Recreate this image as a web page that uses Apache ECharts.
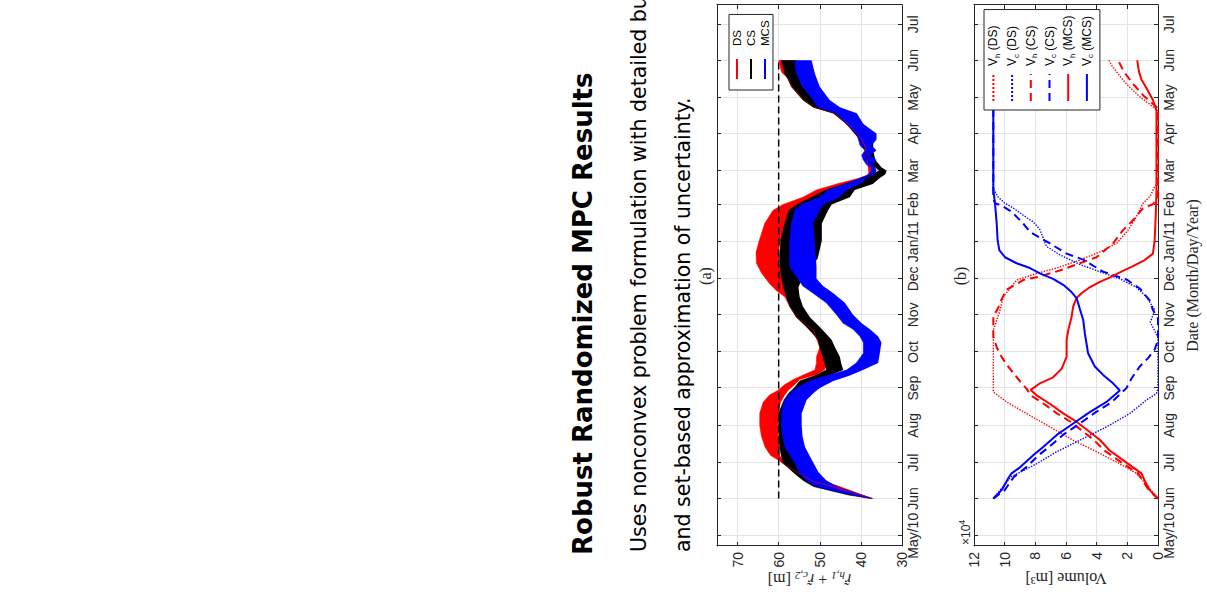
<!DOCTYPE html>
<html lang="en">
<head>
<meta charset="UTF-8">
<meta name="viewport" content="width=device-width, initial-scale=1.0">
<title>Robust Randomized MPC Results</title>
<script src="https://cdn.jsdelivr.net/npm/echarts@6/dist/echarts.min.js"></script>
<style>
    html, body { margin: 0; padding: 0; width: 1207px; height: 595px; overflow: hidden; background: #fff; }
    /* the slide is laid out upright, then turned a quarter turn to the left like the photo */
    #slide {
        position: absolute; left: 0; top: 0;
        width: 595px; height: 1207px;
        transform-origin: 0 0;
        transform: translate(0, 595px) rotate(-90deg);
    }
</style>
</head>
<body>
<div id="slide"></div>
<script>
var monthTicks = ['May/10', 'Jun', 'Jul', 'Aug', 'Sep', 'Oct', 'Nov', 'Dec', 'Jan/11', 'Feb', 'Mar', 'Apr', 'May', 'Jun', 'Jul'];

// (a) spread of r_h,1 + r_c,2 [m] over the runs; days counted from 1 Jun 2010
var dsDays  = [0, 15, 28, 32, 36, 43, 52, 61, 71, 80, 86, 90, 95, 99, 103, 107, 113, 118, 126, 140, 151, 160, 168, 173, 179, 188, 196, 205, 214, 229, 240, 245, 251, 257, 262, 267, 270, 290, 298, 304, 312, 321, 326, 332, 343, 350, 355, 365];
var dsLow   = [37, 49, 55, 59, 59.7, 59.9, 60, 60.2, 60, 59.5, 58.5, 57.7, 56, 54.9, 51, 48.8, 48.4, 49.2, 48.5, 49.5, 53, 55, 56, 58.5, 58.9, 59.3, 59.8, 60, 59.6, 58.1, 56.1, 53.2, 48.8, 45.9, 42.7, 38.6, 37, 37, 37.2, 37.5, 39.8, 44, 48.6, 51, 54.3, 55, 55.5, 56];
var dsHigh  = [37, 52, 58.5, 60, 62, 63.3, 64.2, 64.6, 64.6, 63.8, 62.3, 60.2, 58.5, 56.5, 54, 51.2, 50.8, 50.8, 50, 51.5, 55.5, 57.3, 58.5, 60.5, 62.2, 64.2, 65.4, 65.5, 64.8, 63.4, 61.4, 58.9, 54.1, 50.8, 45.9, 40.2, 38, 38.8, 39.5, 41, 43, 46.5, 51.4, 53.8, 56.7, 57.7, 59.3, 60];

var csDays  = [0, 3, 10, 15, 22, 30, 43, 61, 71, 82, 88, 93, 98, 102, 107, 113, 118, 126, 132, 137, 143, 151, 160, 168, 176, 185, 200, 215, 229, 240, 245, 251, 257, 262, 267, 270, 273, 276, 282, 290, 298, 304, 312, 321, 326, 332, 343, 349, 354, 360, 365];
var csLow   = [37, 40.5, 46, 48.5, 51, 53.5, 54.5, 55, 55, 53.5, 53, 52, 51.3, 48, 44.3, 44.8, 45.1, 46.3, 47.1, 48.4, 50, 52.4, 54.1, 54.9, 55.2, 54, 50.5, 49.5, 49.5, 48, 47.1, 42.7, 41.5, 37.1, 35.4, 34.1, 33.7, 35, 36.5, 37, 37, 37, 39.4, 43.5, 48.4, 50.8, 54.1, 54.9, 55.3, 55.7, 55.7];
var csHigh  = [37.5, 43, 51.5, 54, 56.5, 59, 59.8, 60, 60, 58.7, 57.5, 56, 54.9, 51.5, 48.4, 48.8, 49.2, 50, 50.4, 51.6, 53.2, 55.7, 57.3, 58.1, 58.8, 59.4, 59.8, 59.5, 58.5, 57.5, 55.5, 52, 48.5, 44, 39.5, 37.5, 35.5, 36.5, 38.5, 39, 40, 41.5, 43.5, 46.7, 51.6, 54.1, 56.9, 57.7, 58.5, 58.9, 59.3];

var mcsDays = [0, 3, 10, 15, 22, 30, 43, 52, 61, 71, 82, 88, 92, 98, 102, 107, 113, 121, 130, 135, 141, 146, 153, 163, 171, 177, 183, 193, 214, 229, 240, 245, 251, 257, 262, 267, 269, 273, 276, 278, 282, 286, 290, 294, 299, 304, 312, 321, 326, 332, 343, 354, 365];
var mcsLow  = [37, 39.5, 45.9, 48.4, 50.3, 51.6, 53.6, 54.2, 54.4, 54.4, 53.2, 51.5, 50, 46.7, 43, 39.5, 35.8, 35.4, 35, 35.8, 37.8, 39.8, 41.9, 43.9, 46.7, 49.2, 50.8, 50.8, 51.2, 51.6, 50, 49.2, 45.1, 43.5, 40.2, 38.6, 37, 36.2, 36.5, 37.2, 36.2, 37.8, 36.2, 37.4, 36.2, 36.2, 39.4, 41, 45.1, 47.6, 50, 51.2, 52];
var mcsHigh = [37.3, 42, 50.8, 53.2, 55, 56.1, 58.5, 59, 59.3, 59.3, 58.5, 57, 55.7, 52.4, 48.5, 43.5, 41.1, 39.4, 39.4, 40.2, 41.9, 44.3, 45.9, 48.4, 51.6, 54.1, 55.3, 57.3, 57.3, 56.9, 56.1, 54.5, 50, 48, 43.5, 40.2, 38.6, 37.4, 37.5, 38.6, 39.4, 39.8, 39, 40.2, 40.6, 41, 43.5, 45.9, 50.4, 51.6, 54.1, 55.7, 56.1];

var refDays  = [0, 365];
var refLevel = [60, 60];

// (b) volumes, in units of 1e4 m^3
var vhDsDays  = [0, 10, 21, 30.5, 39, 48.6, 59.7, 70.8, 80.5, 88.8, 140, 157, 168, 182, 187.5, 192, 198.6, 205.5, 212.5, 223.6, 234.7, 245.8, 252, 259.7, 263, 323, 334.7, 342.5, 348.6, 355.5, 361, 365];
var vhDs      = [0, 0.65, 1.41, 2.71, 4.01, 5.53, 7.05, 8.57, 9.87, 10.74, 10.74, 10.3, 10.09, 9.22, 7.92, 6.61, 5.1, 3.8, 2.71, 1.95, 1.41, 0.98, 0.5, 0.22, 0, 0, 1.19, 1.84, 2.28, 2.71, 3.03, 3.2];
var vcDsDays  = [0, 7, 18, 29, 39, 48.6, 59.7, 70.8, 82, 87.5, 92, 134, 147, 157, 168, 176, 183, 189, 195, 203, 210, 224, 230.5, 236, 242, 246, 251, 258, 365];
var vcDs      = [10.74, 10.3, 9.6, 7.92, 6.61, 5.1, 3.36, 1.84, 0.76, 0.1, 0, 0, 0.5, 0.21, 0.76, 1.41, 2.49, 3.8, 5.1, 6.4, 7.27, 7.7, 8.14, 8.79, 9.44, 9.98, 10.42, 10.74, 10.74];
var vhCsDays  = [0, 7, 15, 21, 26, 32, 40, 49, 55.5, 64, 71, 79, 86, 92, 96, 103, 110, 118, 126, 135, 152, 158, 166, 174, 182, 185, 190, 196, 201, 212.5, 223.6, 230.5, 241.7, 245.3, 250, 325, 335, 345, 355, 365];
var vhCs      = [0, 0.6, 1.0, 1.3, 1.9, 2.6, 3.5, 4.2, 4.85, 5.7, 6.6, 7.45, 8.3, 8.6, 8.9, 9.33, 9.77, 10.2, 10.52, 10.74, 10.74, 10.45, 10.2, 9.87, 8.79, 7.7, 6.4, 5.1, 4.01, 2.93, 2.28, 1.73, 0.98, 0.33, 0, 0, 0.9, 1.6, 2.2, 2.6];
var vcCsDays  = [0, 7, 18, 26, 36, 43, 53, 62.5, 72, 80.5, 92, 100, 110, 117, 124, 132, 150, 157, 165, 175, 182.5, 189, 199, 204, 212.5, 222, 229, 239, 244, 246, 250, 365];
var vcCs      = [10.74, 10.0, 9.4, 8.6, 7.8, 7.1, 6.2, 5.1, 4.05, 3.0, 2.06, 1.73, 1.19, 0.65, 0.22, 0, 0, 0.33, 0.54, 1.19, 2.06, 3.58, 4.88, 5.96, 7.05, 8.35, 8.79, 9.55, 10.2, 10.63, 10.74, 10.74];
var vhMcsDays = [0, 7, 15, 21, 26, 32, 40, 49, 55.5, 64, 71, 79, 86, 90.5, 96, 101, 108, 118, 132, 140, 151, 160, 167, 171, 176, 180.5, 184, 189, 193.6, 198.6, 204, 215, 235, 257, 323, 332, 342, 349, 356, 365];
var vhMcs     = [0, 0.54, 0.87, 1.08, 1.63, 2.28, 3.15, 3.8, 4.45, 5.31, 6.18, 7.05, 7.92, 8.3, 7.7, 6.84, 6.29, 5.96, 5.96, 5.86, 5.64, 5.53, 5.31, 4.99, 4.45, 3.8, 3.15, 2.39, 1.63, 0.87, 0.33, 0.22, 0.15, 0.1, 0.1, 0.33, 0.76, 1.08, 1.25, 1.35];
var vcMcsDays = [0, 7, 18, 21, 26, 36, 43, 53, 62.5, 72, 80.5, 90, 96, 103, 110, 121, 137.5, 149, 158, 167, 172, 178, 183, 187.5, 192, 196, 201, 207, 215, 229, 246, 257, 365];
var vcMcs     = [10.74, 10.2, 9.72, 9.55, 9.0, 8.14, 7.49, 6.6, 5.53, 4.45, 3.36, 2.49, 2.93, 3.58, 4.12, 4.56, 4.77, 4.88, 5.1, 5.31, 5.64, 6.18, 6.84, 7.7, 8.35, 9.22, 9.98, 10.35, 10.46, 10.52, 10.63, 10.74, 10.74];

var DAY = 86400000;
var START = Date.UTC(2010, 5, 1);
var X_MIN = Date.UTC(2010, 3, 22, 12);
var X_MAX = Date.UTC(2011, 6, 17, 2);

var RED = '#ff0000', BLUE = '#0000ff', BLACK = '#000000';
var AXIS = '#262626', GRID = '#e3e3e3';
var SANS = "'Liberation Sans', Arial, sans-serif";
var SERIF = "'Liberation Serif', 'Times New Roman', serif";

function pts(days, vals) {
    return days.map(function (d, i) { return [START + d * DAY, vals[i]]; });
}
function spread(days, lo, hi) {
    return days.map(function (d, i) { return [START + d * DAY, +(hi[i] - lo[i]).toFixed(2)]; });
}

function monthLabel(value) {
    var d = new Date(value);
    if (d.getUTCDate() !== 1 || d.getUTCHours() !== 0) return '';
    var k = (d.getUTCFullYear() - 2010) * 12 + d.getUTCMonth() - 4;
    return monthTicks[k] || '';
}

function dateAxis(grid, position, labels, name) {
    return {
        type: 'time', gridIndex: grid, position: position,
        min: X_MIN, max: X_MAX,
        splitNumber: 15, minInterval: 28 * DAY, maxInterval: 31 * DAY,
        axisLine: { show: true, onZero: false, lineStyle: { color: AXIS, width: 1 } },
        axisTick: { show: true, inside: true, length: 4, lineStyle: { color: AXIS } },
        axisLabel: { show: labels, formatter: monthLabel, margin: 4, color: AXIS, fontFamily: SANS, fontSize: 14, hideOverlap: false },
        splitLine: { show: labels, lineStyle: { color: GRID, width: 1 } },
        name: name || '', nameLocation: 'middle', nameGap: 26, nameMoveOverlap: false,
        nameTextStyle: { fontFamily: SERIF, fontSize: 16, color: AXIS }
    };
}

function valueAxis(grid, position, min, max, step, labels, name, rich) {
    return {
        type: 'value', gridIndex: grid, position: position,
        min: min, max: max, interval: step,
        axisLine: { show: true, onZero: false, lineStyle: { color: AXIS, width: 1 } },
        axisTick: { show: true, inside: true, length: 4, lineStyle: { color: AXIS } },
        axisLabel: {
            show: labels, margin: 6, color: AXIS, fontFamily: SANS, fontSize: 14,
            formatter: function (v) { return (v - min) % step === 0 ? String(v) : ''; }
        },
        splitLine: { show: labels, lineStyle: { color: GRID, width: 1 } },
        name: name || '', nameLocation: 'middle', nameGap: 24, nameMoveOverlap: false,
        nameTextStyle: { fontFamily: SERIF, fontSize: 16, color: AXIS, rich: rich || {} }
    };
}

// one band = an invisible lower line plus the stacked gap filled in colour
function band(name, color, days, lo, hi) {
    return [
        { name: name + ' low', type: 'line', xAxisIndex: 0, yAxisIndex: 0, stack: name, symbol: 'none', silent: true,
          lineStyle: { opacity: 0 }, data: pts(days, lo) },
        { name: name + ' spread', type: 'line', xAxisIndex: 0, yAxisIndex: 0, stack: name, symbol: 'none', silent: true,
          lineStyle: { color: color, width: 0.6 }, areaStyle: { color: color, opacity: 1 }, data: spread(days, lo, hi) }
    ];
}

function volume(name, color, dash, width, days, vals) {
    return { name: name, type: 'line', xAxisIndex: 2, yAxisIndex: 2, symbol: 'none', color: color,
             lineStyle: { color: color, type: dash, width: width }, data: pts(days, vals) };
}

function legendKey(name, color) {
    return { name: name, type: 'line', xAxisIndex: 0, yAxisIndex: 0, symbol: 'none', color: color,
             lineStyle: { color: color, width: 1 }, data: [] };
}

var chart = echarts.init(document.getElementById('slide'), null, { renderer: 'svg' });

var series = [
    { name: 'level', type: 'line', xAxisIndex: 0, yAxisIndex: 0, symbol: 'none', silent: true,
      lineStyle: { color: BLACK, type: [7, 4], width: 1.5 }, data: pts(refDays, refLevel) }
]
    .concat(band('DS', RED, dsDays, dsLow, dsHigh))
    .concat(band('CS', BLACK, csDays, csLow, csHigh))
    .concat(band('MCS', BLUE, mcsDays, mcsLow, mcsHigh))
    .concat([
        legendKey('DS', RED), legendKey('CS', BLACK), legendKey('MCS', BLUE),
        volume('Vh (DS)', RED, 'dotted', 1.4, vhDsDays, vhDs),
        volume('Vc (DS)', BLUE, 'dotted', 1.4, vcDsDays, vcDs),
        volume('Vh (CS)', RED, [8, 5], 2, vhCsDays, vhCs),
        volume('Vc (CS)', BLUE, [8, 5], 2, vcCsDays, vcCs),
        volume('Vh (MCS)', RED, 'solid', 2, vhMcsDays, vhMcs),
        volume('Vc (MCS)', BLUE, 'solid', 2, vcMcsDays, vcMcs)
    ]);

var rRich = {
    it: { fontFamily: SERIF, fontStyle: 'italic', fontSize: 16, color: AXIS },
    sub: { fontFamily: SERIF, fontStyle: 'italic', fontSize: 11, color: AXIS, padding: [8, 0, 0, 0] }
};

chart.setOption({
    animation: false,
    useUTC: true,
    backgroundColor: '#fff',
    grid: [
        { left: 49, top: 717, width: 541, height: 185, outerBoundsMode: 'none' },
        { left: 49, top: 974, width: 541, height: 184, outerBoundsMode: 'none' }
    ],
    xAxis: [
        dateAxis(0, 'bottom', true),
        dateAxis(0, 'top', false),
        dateAxis(1, 'bottom', true, 'Date (Month/Day/Year)'),
        dateAxis(1, 'top', false)
    ],
    yAxis: [
        valueAxis(0, 'left', 30, 75, 10, true, '{it|r̃}{sub|h,1} + {it|r̃}{sub|c,2} [m]', rRich),
        valueAxis(0, 'right', 30, 75, 10, false),
        valueAxis(1, 'left', 0, 12, 2, true, 'Volume [m³]'),
        valueAxis(1, 'right', 0, 12, 2, false)
    ],
    legend: [
        {
            data: ['DS', 'CS', 'MCS'], orient: 'vertical', left: 505, top: 729,
            itemWidth: 20, itemHeight: 14, itemGap: 2, padding: [2, 6, 2, 10],
            backgroundColor: '#fff', borderColor: AXIS, borderWidth: 1, borderRadius: 0,
            selectedMode: false,
            itemStyle: { opacity: 0 },
            textStyle: { fontFamily: SANS, fontSize: 11.5, color: BLACK, padding: [0, 0, 0, 8] }
        },
        {
            data: ['Vh (DS)', 'Vc (DS)', 'Vh (CS)', 'Vc (CS)', 'Vh (MCS)', 'Vc (MCS)'],
            orient: 'vertical', left: 485, top: 984,
            itemWidth: 27, itemHeight: 16, itemGap: 4.3, padding: [3, 6, 5, 8],
            backgroundColor: '#fff', borderColor: AXIS, borderWidth: 1, borderRadius: 0,
            selectedMode: false,
            itemStyle: { opacity: 0 },
            formatter: function (name) { return 'V{s|' + name.charAt(1) + '}' + name.slice(2); },
            textStyle: {
                fontFamily: SANS, fontSize: 12, color: BLACK, padding: [0, 0, 0, 3],
                rich: { s: { fontFamily: SANS, fontSize: 8, color: BLACK, padding: [8, 0, 0, 0] } }
            }
        }
    ],
    graphic: { elements: [
        { type: 'text', x: 40, y: 583, silent: true,
          style: { text: 'Robust Randomized MPC Results', fill: BLACK, fontFamily: "'DejaVu Sans', sans-serif", fontWeight: 'bold', fontSize: 26, align: 'left', verticalAlign: 'middle' } },
        { type: 'text', x: 43, y: 639, silent: true,
          style: { text: 'Uses nonconvex problem formulation with detailed bu', fill: BLACK, fontFamily: "'DejaVu Sans', sans-serif", fontSize: 20.5, align: 'left', verticalAlign: 'middle' } },
        { type: 'text', x: 43, y: 683, silent: true,
          style: { text: 'and set-based approximation of uncertainty.', fill: BLACK, fontFamily: "'DejaVu Sans', sans-serif", fontSize: 20.5, align: 'left', verticalAlign: 'middle' } },
        { type: 'text', x: 319, y: 705, silent: true,
          style: { text: '(a)', fill: AXIS, fontFamily: SERIF, fontSize: 16, align: 'center', verticalAlign: 'middle' } },
        { type: 'text', x: 319, y: 960, silent: true,
          style: { text: '(b)', fill: AXIS, fontFamily: SERIF, fontSize: 16, align: 'center', verticalAlign: 'middle' } },
        { type: 'text', x: 50, y: 966, silent: true,
          style: { text: '×10{sup|4}', fill: AXIS, fontFamily: SANS, fontSize: 12, align: 'left', verticalAlign: 'middle',
                   rich: { sup: { fontFamily: SANS, fontSize: 9, fill: AXIS, padding: [0, 0, 8, 0] } } } }
    ] },
    series: series
});
</script>
</body>
</html>
